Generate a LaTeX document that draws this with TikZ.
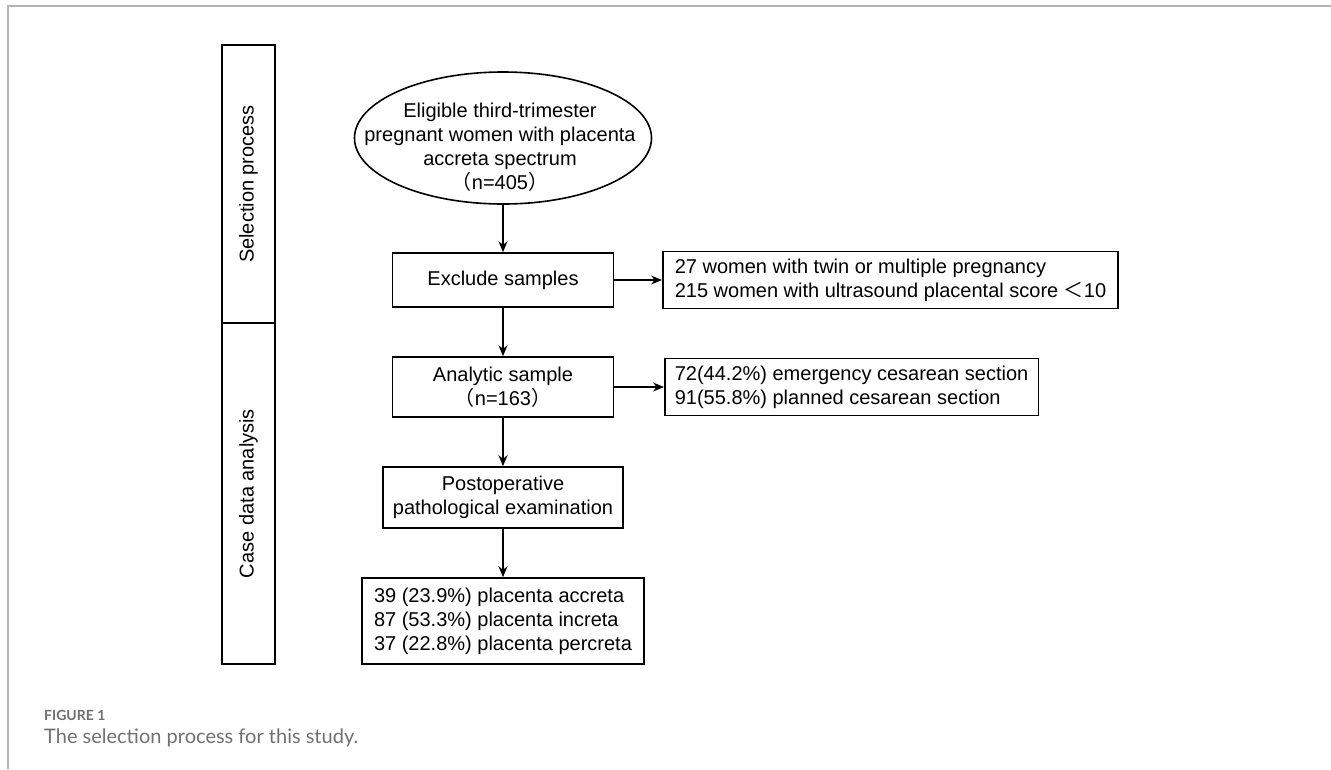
\documentclass[tikz,border=0pt]{standalone}
\usepackage{fontspec}
\setmainfont{Liberation Sans}
\newfontfamily\cjk{Noto Sans CJK SC}
\newfontfamily\capfont{Lato}
\usepackage{tikz}
\usepackage{xcolor}
\usetikzlibrary{shapes.geometric}
\usetikzlibrary{arrows.meta}
\definecolor{framegray}{HTML}{B4B4B4}
\definecolor{capgray}{HTML}{707070}
\tikzstyle{box} = [draw,line width=1.6pt,inner sep=0pt,font={\fontsize{20}{24}\selectfont},align=center]
\tikzstyle{lane} = [box,rotate=90,minimum height=53pt]
\tikzstyle{arrow} = [line width=1.6pt,->,>={Stealth[length=11pt,width=9pt]}]

\begin{document}
\begin{tikzpicture}[x=1pt,y=-1pt]
  \useasboundingbox (0,0) rectangle (1331,769);
  \draw[framegray,line width=2pt] (8,769) -- (8,6) -- (1331,6);
  % side lanes
  \node[lane,minimum width=278pt] (sel) at (248.5,184) {Selection process};
  \node[lane,minimum width=341pt] (cda) at (248.5,493.5) {Case data analysis};
  % main column
  \node[box,ellipse,minimum width=297pt,minimum height=132pt] (elig) at (503,138) {};
  \node[font={\fontsize{20}{24}\selectfont},align=center,inner sep=0pt] (eligtxt) at (500,147)
    {Eligible third-trimester\\pregnant women with placenta\\accreta spectrum\\{\cjk （}n=405{\cjk ）}};
  \node[box,minimum width=221pt,minimum height=54pt] (excl) at (503,280) {Exclude samples};
  \node[box,minimum width=221pt,minimum height=60pt] (ana) at (503,387) {Analytic sample\\{\cjk （}n=163{\cjk ）}};
  \node[box,minimum width=240pt,minimum height=61pt] (post) at (503,497.5) {Postoperative\\pathological examination};
  \node[box,align=left,minimum width=282pt,minimum height=86pt] (fin) at (503,621)
    {39 (23.9\%) placenta accreta\\87 (53.3\%) placenta increta\\37 (22.8\%) placenta percreta};
  % right column
  \node[box,align=left,anchor=west,inner xsep=12pt,minimum height=57pt] (exclwhy) at (662,280)
    {27 women with twin or multiple pregnancy\\215 women with ultrasound placental score {\cjk ＜}10};
  \node[box,align=left,anchor=west,inner xsep=10pt,minimum height=57pt] (anasplit) at (664,387)
    {72(44.2\%) emergency cesarean section\\91(55.8\%) planned cesarean section};
  \path[arrow]
    (elig) edge (excl)
    (excl) edge (exclwhy)
    edge (ana)
    (ana) edge (anasplit)
    edge (post)
    (post) edge (fin);
  % caption
  \node[anchor=west,inner sep=0pt,text=capgray,font={\capfont\bfseries\fontsize{14}{17}\selectfont}] (fignum) at (44,715) {FIGURE 1};
  \node[anchor=west,inner sep=0pt,text=capgray,font={\capfont\fontsize{20}{24}\selectfont}] (figcap) at (44,738) {The selection process for this study.};
\end{tikzpicture}
\end{document}
